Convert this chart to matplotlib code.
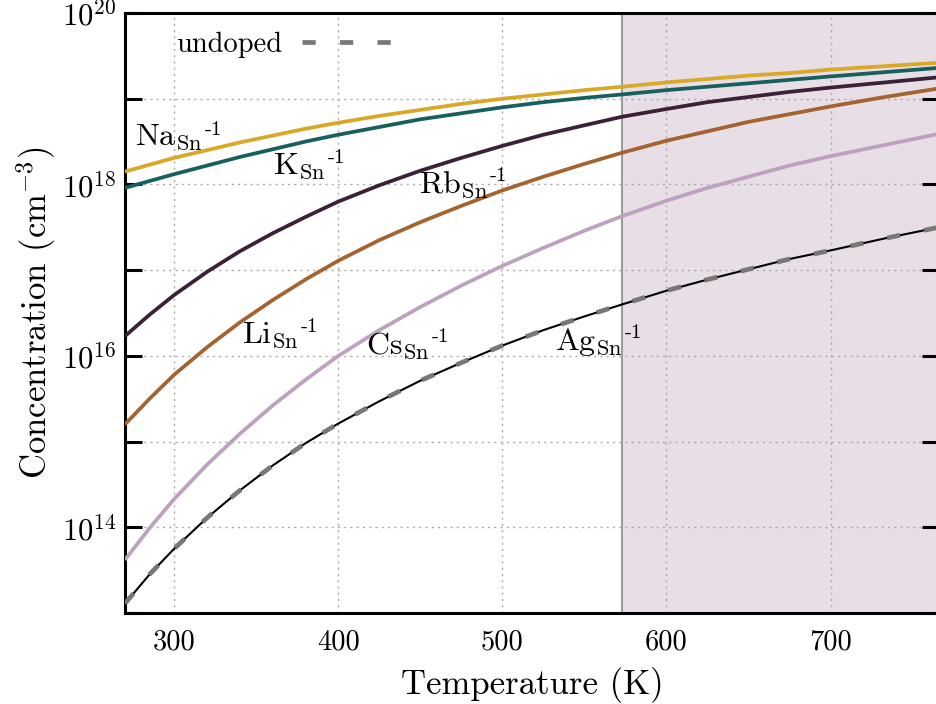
import matplotlib
matplotlib.use("Agg")
import matplotlib.pyplot as plt
import numpy as np

plt.rcParams['font.family'] = 'serif'
plt.rcParams['font.serif'] = ['cmr10', 'DejaVu Serif']
plt.rcParams['mathtext.fontset'] = 'cm'
plt.rcParams['axes.unicode_minus'] = False
plt.rcParams['axes.formatter.use_mathtext'] = True
plt.rcParams['lines.scale_dashes'] = False

# Temperature (K)
T = [270, 285, 300, 320, 340, 360, 380, 400, 425, 450, 475, 500, 525,
     550, 573, 600, 625, 650, 675, 700, 733, 766]
# log10 concentration (cm^-3)
log_na = [18.15, 18.23, 18.31, 18.40, 18.49, 18.57, 18.65, 18.72, 18.80, 18.87, 18.94,
          19.00, 19.05, 19.10, 19.14, 19.19, 19.23, 19.27, 19.30, 19.34, 19.38, 19.42]
log_k = [17.96, 18.04, 18.12, 18.22, 18.32, 18.41, 18.50, 18.58, 18.67, 18.76, 18.83,
         18.90, 18.96, 19.01, 19.05, 19.10, 19.14, 19.18, 19.22, 19.26, 19.31, 19.36]
log_rb = [16.23, 16.48, 16.71, 16.98, 17.22, 17.43, 17.62, 17.80, 17.99, 18.16, 18.31,
          18.45, 18.58, 18.69, 18.79, 18.88, 18.96, 19.02, 19.08, 19.13, 19.19, 19.25]
log_li = [15.20, 15.50, 15.78, 16.10, 16.39, 16.65, 16.89, 17.11, 17.35, 17.56, 17.75,
          17.93, 18.09, 18.24, 18.37, 18.51, 18.62, 18.73, 18.82, 18.91, 19.02, 19.12]
log_cs = [13.62, 13.99, 14.33, 14.73, 15.09, 15.42, 15.72, 16.00, 16.30, 16.57, 16.82,
          17.05, 17.26, 17.46, 17.63, 17.81, 17.96, 18.09, 18.22, 18.33, 18.46, 18.59]
log_ag = [13.11, 13.45, 13.75, 14.11, 14.43, 14.72, 14.98, 15.21, 15.47, 15.71, 15.92,
          16.12, 16.30, 16.46, 16.60, 16.76, 16.89, 17.01, 17.13, 17.23, 17.37, 17.50]
log_undoped = [13.11, 13.45, 13.75, 14.11, 14.43, 14.72, 14.98, 15.21, 15.47, 15.71, 15.92,
               16.12, 16.30, 16.46, 16.60, 16.76, 16.89, 17.01, 17.13, 17.23, 17.37, 17.50]

T_shade = 573
xlim = (270, 766)

series = [
    ("Na", log_na, "#D9A827"),
    ("K", log_k, "#17605E"),
    ("Rb", log_rb, "#3A2135"),
    ("Li", log_li, "#A5642F"),
    ("Cs", log_cs, "#BDA2BF"),
]

fig = plt.figure(figsize=(9.36, 7.04), dpi=100)
ax = fig.add_axes([0.1335, 0.1293, 0.8695, 0.8522])

ax.axvspan(T_shade, 800, color="#E8DEE6", zorder=0, lw=0)
ax.axvline(T_shade, color="#8a8a8a", lw=1.2, zorder=1)

Tarr = np.array(T, dtype=float)
for name, vals, col in series:
    ax.plot(Tarr, 10.0 ** np.array(vals), color=col, lw=2.7, zorder=3,
            solid_capstyle='butt', solid_joinstyle='round')
ax.plot(Tarr, 10.0 ** np.array(log_ag), color="black", lw=1.5, zorder=4)
und, = ax.plot(Tarr, 10.0 ** np.array(log_undoped), color="#777777", lw=3.4,
               zorder=5, dashes=(9.5, 17.5), dash_capstyle='butt')

ax.set_yscale('log')
ax.set_xlim(*xlim)
ax.set_ylim(1e13, 1e20)

ax.set_yticks([10.0 ** k for k in range(13, 21)])
ax.set_yticklabels(['' if k % 2 else r'$10^{%d}$' % k for k in range(13, 21)])
ax.yaxis.set_minor_locator(matplotlib.ticker.NullLocator())
ax.set_xticks([300, 400, 500, 600, 700])
ax.set_xticklabels(['300', '400', '500', '600', '700'])

ax.tick_params(axis='y', which='major', direction='in', length=12, width=2.2,
               left=True, right=True, labelsize=22, pad=6)
ax.tick_params(axis='x', which='major', direction='in', length=0,
               labelsize=20.5, pad=12)

for s in ax.spines.values():
    s.set_linewidth(2.2)

ax.grid(True, which='major', color='#aaaaaa', ls=(0, (1.5, 3)), lw=1.0)
for gl in ax.get_xgridlines() + ax.get_ygridlines():
    gl.set_zorder(2)

ax.set_xlabel('Temperature (K)', fontsize=25, labelpad=8)
ax.set_ylabel(r'Concentration (cm$^{\mathrm{-3}}$)', fontsize=25, labelpad=3)

lab_fs = 23
def lab(x, ly, el):
    t = ax.text(x, 10.0 ** ly, r'$\mathrm{%s}_{\mathrm{Sn}}$' % el,
                fontsize=lab_fs, ha='left', va='baseline', zorder=6)
    ax.annotate('-1', xy=(1, 1), xycoords=t, xytext=(1.5, 1.5),
                textcoords='offset points', fontsize=15, ha='left', va='top',
                zorder=6)

lab(276, 18.46, 'Na')
lab(360.5, 18.13, 'K')
lab(449, 17.91, 'Rb')
lab(341.5, 16.16, 'Li')
lab(416.8, 16.03, 'Cs')
lab(531.8, 16.07, 'Ag')

leg = ax.legend([und], ['undoped'], loc='upper left', bbox_to_anchor=(0.04, 1.0),
                frameon=False, markerfirst=False, fontsize=20.5, handlelength=3.5,
                handletextpad=0.7, borderaxespad=0.25)

fig.savefig('out.png', dpi=100)
